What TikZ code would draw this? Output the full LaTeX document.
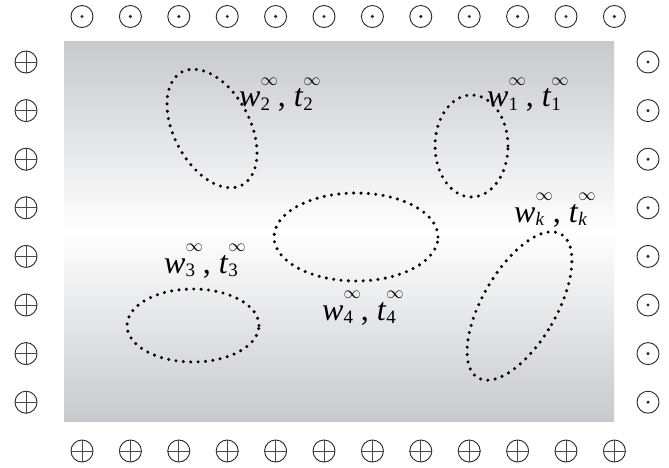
\documentclass[tikz,border=0pt]{standalone}
\usepackage{fontspec}
\setmainfont{Liberation Serif}
\usetikzlibrary{shapes.geometric}
\definecolor{pgray}{RGB}{199,201,204}
\definecolor{symcol}{RGB}{40,40,40}
\newcommand\scr[1]{{\fontsize{19}{19}\selectfont #1}}
\newcommand\infsup{\raisebox{21.5pt}{\fontsize{17}{17}\selectfont$\infty$}}
\newcommand\wtlab[1]{\textit{w}\rlap{\raisebox{-3pt}{\scr{#1}}}\infsup, \textit{t}\rlap{\raisebox{-3pt}{\scr{#1}}}\infsup}
\begin{document}
\begin{tikzpicture}[x=1pt,y=-1pt,
  dotline/.style={line width=3.4pt, line cap=round, dash pattern=on 0pt off 7.4pt},
  blob/.style={ellipse, draw, dotline, inner sep=0pt},
  lab/.style={anchor=base west, inner sep=0pt, font=\fontsize{32}{32}\selectfont},
  sym/.style={circle, draw=symcol, line width=0.9pt, minimum size=22pt, inner sep=0pt},
  crossln/.style={draw=symcol!85, line width=0.8pt}]
\useasboundingbox (0,0) rectangle (669,468);
\fill[white] (0,0) rectangle (669,468);
% shaded region
\shade[top color=pgray, bottom color=pgray, middle color=white] (64,42) rectangle (614,421);
% top and bottom rows
\foreach \i in {0,...,11} {
  \node[sym] (top\i) at ({82+48.4*\i},16.5) {};
  \fill[symcol] (top\i.center) circle (1.7pt);
  \node[sym] (bot\i) at ({82+48.4*\i},451) {};
  \path[crossln] (bot\i.north) -- (bot\i.south) (bot\i.west) -- (bot\i.east);
}
% left and right columns
\foreach \j in {0,...,7} {
  \node[sym] (lft\j) at (26,{62+48.6*\j}) {};
  \path[crossln] (lft\j.north) -- (lft\j.south) (lft\j.west) -- (lft\j.east);
  \node[sym] (rgt\j) at (648,{62+48.6*\j}) {};
  \fill[symcol] (rgt\j.center) circle (1.7pt);
}
% dotted regions
\node[blob, minimum width=76pt, minimum height=128pt, rotate=28] (e2) at (212,128.5) {};
\node[blob, minimum width=73pt, minimum height=102pt] (e1) at (471.5,146) {};
\node[blob, minimum width=164pt, minimum height=88pt] (e4) at (356,237) {};
\node[blob, minimum width=132pt, minimum height=73pt] (e3) at (193,325.5) {};
\node[blob, minimum width=74pt, minimum height=166pt, rotate=-30] (ek) at (519.5,306) {};
% labels
\node[lab] (l2) at (239,107) {\wtlab{2}};
\node[lab] (l1) at (487,107) {\wtlab{1}};
\node[lab] (l4) at (322,320) {\wtlab{4}};
\node[lab] (l3) at (164,273) {\wtlab{3}};
\node[lab] (lk) at (514,222) {\wtlab{\textit{k}}};
\end{tikzpicture}
\end{document}
